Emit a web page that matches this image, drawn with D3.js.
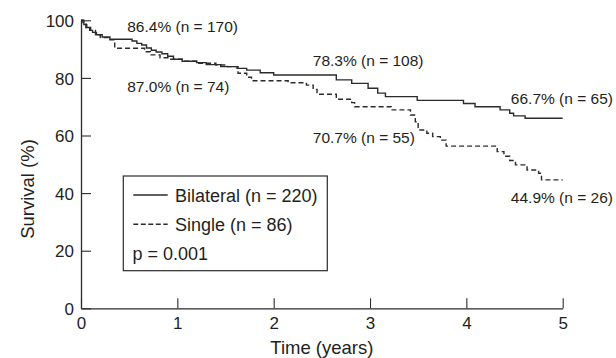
<!DOCTYPE html>
<html>
<head>
<meta charset="utf-8">
<script src="https://cdn.jsdelivr.net/npm/d3@7"></script>
<style>
  html, body { margin: 0; padding: 0; background: #fff; }
  svg text { font-family: "Liberation Sans", Arial, sans-serif; fill: #231f20; }
</style>
</head>
<body>
<svg id="chart" width="616" height="358"></svg>
<script>
// ---- data ----
const bilateralTime = [0, 0.03, 0.06, 0.09, 0.12, 0.16, 0.22, 0.30, 0.53, 0.58, 0.63, 0.68, 0.73, 0.78, 0.84, 0.90, 0.96, 1.05, 1.20, 1.30, 1.45, 1.62, 1.72, 1.86, 2.00, 2.65, 2.81, 2.98, 3.08, 3.16, 3.49, 3.97, 4.09, 4.35, 4.45, 4.49, 4.61, 5.00];
const bilateralSurv = [100, 98.5, 97.5, 96.5, 95.8, 95.0, 94.2, 93.4, 92.8, 92.0, 91.4, 90.4, 89.6, 89.0, 88.4, 87.5, 86.5, 85.8, 85.3, 84.6, 83.9, 83.3, 82.7, 81.8, 81.0, 79.3, 78.1, 76.4, 74.7, 73.5, 72.2, 71.1, 70.0, 68.9, 67.7, 66.8, 66.0, 66.0];
const singleTime = [0, 0.02, 0.05, 0.10, 0.15, 0.20, 0.30, 0.35, 0.66, 0.72, 0.82, 0.92, 1.05, 1.20, 1.40, 1.52, 1.63, 1.72, 1.77, 2.15, 2.34, 2.41, 2.45, 2.65, 2.81, 2.84, 3.22, 3.42, 3.47, 3.50, 3.59, 3.65, 3.73, 3.79, 4.32, 4.39, 4.45, 4.51, 4.63, 4.75, 4.78, 5.00];
const singleSurv = [100, 98.8, 97.5, 96.5, 95.0, 94.0, 93.2, 90.3, 89.1, 88.0, 87.0, 86.5, 85.8, 85.1, 84.5, 83.9, 81.6, 80.2, 79.0, 78.3, 77.5, 76.0, 74.3, 72.6, 71.4, 70.0, 68.9, 67.1, 64.8, 61.9, 60.8, 59.6, 58.4, 56.3, 54.4, 52.8, 51.3, 49.8, 48.0, 46.9, 44.6, 44.6];
const xTicks = [0, 1, 2, 3, 4, 5];
const yTicks = [0, 20, 40, 60, 80, 100];
const annotations = [
  { t: 0.48, s: 96.0, label: "86.4% (n = 170)" },
  { t: 0.48, s: 75.2, label: "87.0% (n = 74)" },
  { t: 2.406, s: 84.2, label: "78.3% (n = 108)" },
  { t: 2.406, s: 57.4, label: "70.7% (n = 55)" },
  { t: 4.462, s: 70.9, label: "66.7% (n = 65)" },
  { t: 4.462, s: 36.5, label: "44.9% (n = 26)" }
];
const legendItems = [
  { label: "Bilateral (n = 220)", dash: null },
  { label: "Single (n = 86)", dash: "5,2.5" },
  { label: "p = 0.001", dash: "none" }
];

// ---- layout ----
const svg = d3.select("#chart");
const margin = { left: 81, top: 20.3 };
const W = 481.7, H = 288;
const g = svg.append("g").attr("transform", `translate(${margin.left},${margin.top})`);
const x = d3.scaleLinear().domain([0, 5]).range([0, W]);
const y = d3.scaleLinear().domain([0, 100]).range([H, 0]);
const ink = "#2b2b2b";

// axes
const xAxis = d3.axisBottom(x).tickValues(xTicks).tickFormat(d3.format("d"))
  .tickSizeInner(-10).tickSizeOuter(0).tickPadding(9);
const gx = g.append("g").attr("transform", `translate(0,${H})`).call(xAxis);
gx.selectAll("text").style("font-size", "17px");

const yAxis = d3.axisLeft(y).tickValues(yTicks).tickFormat(d3.format("d"))
  .tickSizeInner(-10).tickSizeOuter(0).tickPadding(7);
const gy = g.append("g").call(yAxis);
gy.selectAll("text").style("font-size", "17px").attr("dy", "0.36em");
[gx, gy].forEach(a => {
  a.select(".domain").attr("stroke", ink).attr("stroke-width", 1.3);
  a.selectAll(".tick line").attr("stroke", ink).attr("stroke-width", 1.1);
});

// axis titles
svg.append("text").attr("x", margin.left + x(2.5)).attr("y", 354)
  .attr("text-anchor", "middle").style("font-size", "18.5px").text("Time (years)");
svg.append("text").attr("transform", "translate(34,189) rotate(-90)")
  .attr("text-anchor", "middle").style("font-size", "18.5px").text("Survival (%)");

// curves
const line = d3.line().x(d => x(d[0])).y(d => y(d[1])).curve(d3.curveStepAfter);
g.append("path").datum(d3.zip(bilateralTime, bilateralSurv))
  .attr("d", line).attr("fill", "none").attr("stroke", ink).attr("stroke-width", 1.4);
g.append("path").datum(d3.zip(singleTime, singleSurv))
  .attr("d", line).attr("fill", "none").attr("stroke", ink).attr("stroke-width", 1.4)
  .attr("stroke-dasharray", "5,3");

// annotations
g.selectAll("text.ann").data(annotations).join("text").attr("class", "ann")
  .attr("x", d => x(d.t)).attr("y", d => y(d.s))
  .style("font-size", "15.5px").text(d => d.label);

// legend
const lg = svg.append("g");
lg.append("rect").attr("x", 123.3).attr("y", 176).attr("width", 204).attr("height", 94.7)
  .attr("fill", "#fff").attr("stroke", ink).attr("stroke-width", 1.2);
legendItems.forEach((it, i) => {
  const yy = 195 + i * 29.3;
  if (it.dash !== "none") {
    lg.append("line").attr("x1", 133.3).attr("x2", 167.7).attr("y1", yy).attr("y2", yy)
      .attr("stroke", ink).attr("stroke-width", 1.4)
      .attr("stroke-dasharray", it.dash);
  }
  lg.append("text").attr("x", it.dash === "none" ? 132.5 : 175).attr("y", yy + 6.5)
    .style("font-size", "18px").text(it.label);
});
</script>
</body>
</html>
